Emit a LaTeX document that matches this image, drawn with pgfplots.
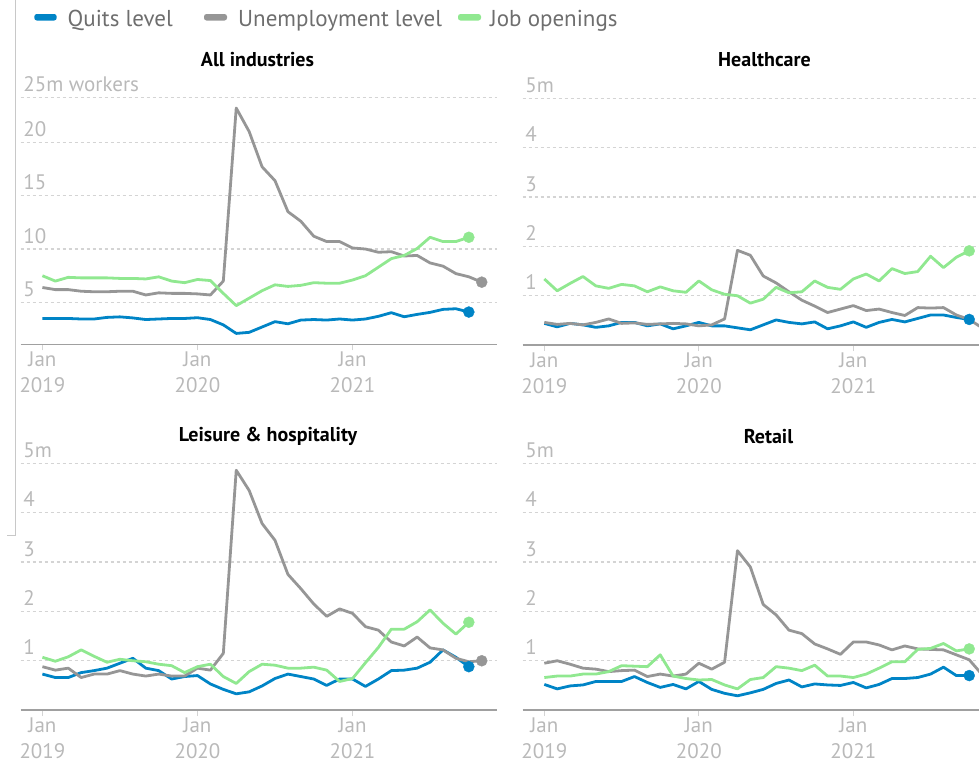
\documentclass[border=0pt]{standalone}
\usepackage{pgfplots}
\pgfplotsset{compat=1.18}
\usepackage{pgfplotstable}
\usepackage{fontspec}
\setmainfont{PT Sans}
\definecolor{cquit}{RGB}{0,132,198}
\definecolor{cunemp}{RGB}{150,150,150}
\definecolor{copen}{RGB}{144,232,144}
\definecolor{cgrid}{RGB}{212,212,212}
\definecolor{clab}{RGB}{185,185,185}
\definecolor{clegend}{RGB}{110,110,110}
\definecolor{caxis}{RGB}{160,160,160}
\definecolor{cborder}{RGB}{200,200,200}

\pgfplotstableread{
m q u o
0 3.5 6.4 7.5
1 3.5 6.2 7.0
2 3.5 6.2 7.35
3 3.45 6.05 7.3
4 3.45 6.0 7.3
5 3.6 6.0 7.3
6 3.65 6.05 7.25
7 3.55 6.05 7.25
8 3.4 5.7 7.2
9 3.45 5.9 7.4
10 3.5 5.85 7.0
11 3.5 5.85 6.85
12 3.57 5.8 7.15
13 3.4 5.7 7.05
14 2.9 7.0 5.85
15 2.1 23.2 4.7
16 2.2 21.0 5.4
17 2.7 17.7 6.1
18 3.2 16.4 6.65
19 3.0 13.5 6.5
20 3.35 12.6 6.6
21 3.4 11.2 6.85
22 3.35 10.7 6.8
23 3.45 10.7 6.8
24 3.35 10.1 7.1
25 3.45 10.0 7.5
26 3.7 9.7 8.3
27 4.04 9.75 9.1
28 3.66 9.35 9.4
29 3.88 9.4 10.05
30 4.07 8.7 11.1
31 4.35 8.4 10.7
32 4.41 7.7 10.7
33 4.1 7.4 11.1
34 nan 6.9 nan
}\allind

\pgfplotstableread{
m q u o
0 0.44 0.46 1.34
1 0.37 0.42 1.10
2 0.44 0.44 1.25
3 0.41 0.41 1.39
4 0.36 0.46 1.20
5 0.39 0.53 1.15
6 0.46 0.44 1.23
7 0.46 0.45 1.20
8 0.39 0.42 1.08
9 0.43 0.43 1.18
10 0.33 0.44 1.10
11 0.39 0.43 1.07
12 0.46 0.39 1.30
13 0.39 0.41 1.12
14 0.39 0.53 1.03
15 0.35 1.92 1.00
16 0.31 1.82 0.85
17 0.41 1.40 0.93
18 0.51 1.26 1.17
19 0.46 1.08 1.06
20 0.43 0.91 1.08
21 0.47 0.79 1.30
22 0.33 0.66 1.17
23 0.39 0.73 1.13
24 0.47 0.80 1.34
25 0.36 0.70 1.44
26 0.46 0.73 1.30
27 0.52 0.66 1.55
28 0.47 0.60 1.45
29 0.54 0.76 1.49
30 0.61 0.75 1.80
31 0.61 0.76 1.57
32 0.56 0.61 1.78
33 0.52 0.52 1.91
34 nan 0.35 nan
}\health

\pgfplotstableread{
m q u o
0 0.73 0.88 1.07
1 0.66 0.81 0.99
2 0.66 0.85 1.08
3 0.76 0.66 1.22
4 0.80 0.73 1.09
5 0.85 0.73 0.97
6 0.95 0.80 1.03
7 1.05 0.73 1.00
8 0.85 0.69 0.98
9 0.80 0.73 0.93
10 0.63 0.69 0.90
11 0.68 0.69 0.76
12 0.70 0.85 0.88
13 0.53 0.81 0.93
14 0.42 1.15 0.68
15 0.33 4.86 0.54
16 0.37 4.45 0.78
17 0.49 3.78 0.93
18 0.64 3.44 0.91
19 0.73 2.75 0.85
20 0.68 2.46 0.85
21 0.63 2.15 0.87
22 0.50 1.90 0.81
23 0.63 2.05 0.58
24 0.63 1.96 0.64
25 0.48 1.69 0.96
26 0.63 1.62 1.27
27 0.80 1.38 1.64
28 0.81 1.30 1.64
29 0.85 1.48 1.79
30 0.97 1.26 2.03
31 1.22 1.22 1.76
32 1.07 1.05 1.54
33 0.88 0.98 1.78
34 nan 1.00 nan
}\leisure

\pgfplotstableread{
m q u o
0 0.52 0.95 0.66
1 0.43 1.00 0.69
2 0.49 0.93 0.69
3 0.51 0.85 0.73
4 0.58 0.83 0.73
5 0.58 0.78 0.78
6 0.58 0.80 0.90
7 0.68 0.81 0.89
8 0.56 0.68 0.88
9 0.46 0.73 1.12
10 0.52 0.69 0.69
11 0.43 0.73 0.64
12 0.58 0.95 0.61
13 0.42 0.83 0.62
14 0.34 0.97 0.51
15 0.29 3.23 0.43
16 0.35 2.90 0.62
17 0.42 2.14 0.66
18 0.54 1.93 0.88
19 0.61 1.62 0.85
20 0.47 1.55 0.80
21 0.53 1.34 0.91
22 0.51 1.24 0.69
23 0.50 1.13 0.69
24 0.56 1.38 0.66
25 0.45 1.38 0.73
26 0.52 1.32 0.85
27 0.64 1.22 0.98
28 0.64 1.30 0.98
29 0.66 1.24 1.23
30 0.73 1.23 1.25
31 0.87 1.22 1.35
32 0.70 1.12 1.20
33 0.70 1.02 1.24
34 nan 0.72 nan
}\retail

\pgfplotsset{
  panel/.style={
    scale only axis, clip=true,
    axis x line*=bottom, axis y line*=left,
    y axis line style={draw=none},
    x axis line style={draw=caxis, line width=1.6pt},
    ymajorgrids,
    major grid style={draw=cgrid, line width=1.2pt, dash pattern=on 3pt off 3pt},
    xtick={0,12,24}, xticklabels={Jan\\2019,Jan\\2020,Jan\\2021},
    xticklabel style={align=center, anchor=north, inner sep=0pt, yshift=-1pt,
      font=\fontsize{21}{26}\selectfont, text=clab},
    yticklabel style={anchor=base west, inner sep=0pt, xshift=2.5pt, yshift=6pt,
      font=\fontsize{21}{25}\selectfont, text=clab},
    xtick style={draw=cgrid, line width=1pt}, ytick style={draw=none},
    xtick align=outside, ytick align=inside, major tick length=6pt,
    /pgf/number format/assume math mode=true,
  },
  qline/.style={cquit, line width=2.8pt, line join=round, no marks},
  uline/.style={cunemp, line width=2.8pt, line join=round, no marks},
  oline/.style={copen, line width=2.8pt, line join=round, no marks},
  qdot/.style={only marks, mark=*, mark size=5.5pt, mark options={draw=cquit, fill=cquit}, restrict x to domain=32.5:33.5},
  udot/.style={only marks, mark=*, mark size=5.5pt, mark options={draw=cunemp, fill=cunemp}, restrict x to domain=33.5:34.5},
  odot/.style={only marks, mark=*, mark size=5.5pt, mark options={draw=copen, fill=copen}, restrict x to domain=32.5:33.5},
}

\newcommand{\panelplots}[1]{%
  \addplot[qline] table[x=m,y=q]{#1};
  \addplot[uline] table[x=m,y=u]{#1};
  \addplot[oline] table[x=m,y=o]{#1};
  \addplot[qdot] table[x=m,y=q]{#1};
  \addplot[udot] table[x=m,y=u]{#1};
  \addplot[odot] table[x=m,y=o]{#1};
}

\begin{document}
\begin{tikzpicture}
\useasboundingbox (0pt,0pt) rectangle (979pt,-761pt);

% page border decoration
\draw[cborder, line width=1pt] (15pt,0pt) -- (15pt,-535pt) -- (7pt,-535pt);

% legend
\fill[cquit, rounded corners=2.5pt] (34.3pt,-14pt) rectangle (56.7pt,-20.5pt);
\node[anchor=base west, inner sep=0pt, text=clegend, font=\fontsize{23}{27}\selectfont] at (67.5pt,-26.7pt) {Quits level};
\fill[cunemp, rounded corners=2.5pt] (204pt,-14pt) rectangle (227pt,-20.5pt);
\node[anchor=base west, inner sep=0pt, text=clegend, font=\fontsize{23}{27}\selectfont] at (238pt,-26.7pt) {Unemployment level};
\fill[copen, rounded corners=2.5pt] (458pt,-14pt) rectangle (481pt,-20.5pt);
\node[anchor=base west, inner sep=0pt, text=clegend, font=\fontsize{23}{27}\selectfont] at (490pt,-26.7pt) {Job openings};

% titles
\node[font=\bfseries\fontsize{20}{24}\selectfont] at (257.5pt,-60pt) {All industries};
\node[font=\bfseries\fontsize{20}{24}\selectfont] at (764.5pt,-60pt) {Healthcare};
\node[font=\bfseries\fontsize{20}{24}\selectfont] at (268pt,-436.5pt) {Leisure \& hospitality};
\node[font=\bfseries\fontsize{20}{24}\selectfont] at (768.5pt,-436.5pt) {Retail};

\begin{axis}[panel, at={(20.7pt,-344.3pt)}, anchor=south west,
  width=476.3pt, height=246.6pt, xmin=-1.68, xmax=35.18, ymin=1.08, ymax=24.17,
  ytick={5,10,15,20,24.17}, yticklabels={5,10,15,20,25m workers}]
\panelplots{\allind}
\end{axis}

\begin{axis}[panel, at={(522.7pt,-345.1pt)}, anchor=south west,
  width=456.3pt, height=246.8pt, xmin=-1.68, xmax=33.76, ymin=0, ymax=5,
  ytick={1,2,3,4,5}, yticklabels={1,2,3,4,5m}]
\panelplots{\health}
\end{axis}

\begin{axis}[panel, at={(20.7pt,-710.1pt)}, anchor=south west,
  width=476.3pt, height=246.8pt, xmin=-1.68, xmax=35.18, ymin=0, ymax=5,
  ytick={1,2,3,4,5}, yticklabels={1,2,3,4,5m}]
\panelplots{\leisure}
\end{axis}

\begin{axis}[panel, at={(522.7pt,-710.1pt)}, anchor=south west,
  width=456.3pt, height=246.8pt, xmin=-1.68, xmax=33.76, ymin=0, ymax=5,
  ytick={1,2,3,4,5}, yticklabels={1,2,3,4,5m}]
\panelplots{\retail}
\end{axis}
\end{tikzpicture}
\end{document}
